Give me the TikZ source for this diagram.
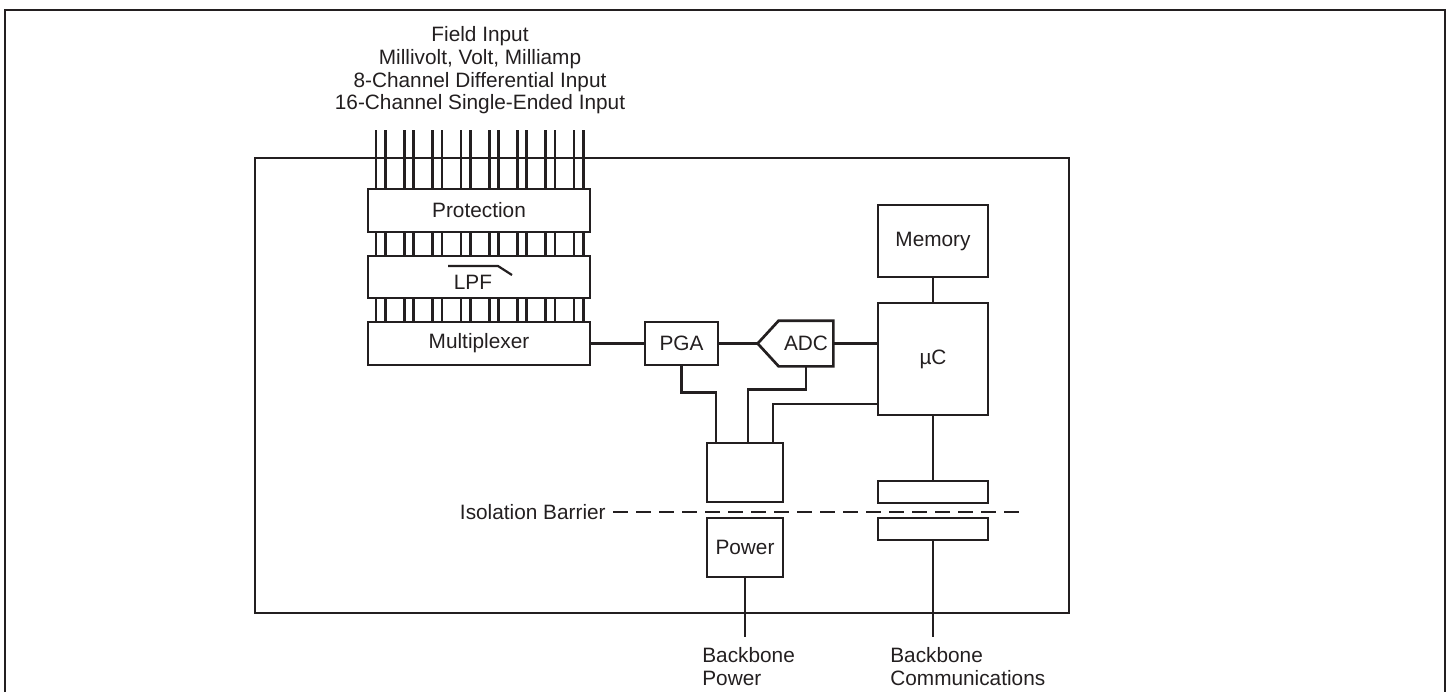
\documentclass[tikz,border=0pt]{standalone}
\usepackage{fontspec}
\setmainfont{Liberation Sans}
\usetikzlibrary{calc,positioning}
\definecolor{ink}{HTML}{231F20}
\begin{document}
\begin{tikzpicture}[x=0.5pt,y=-0.5pt,line width=1.35pt,draw=ink,text=ink,
  font=\fontsize{10.4}{11.4}\selectfont,
  blk/.style n args={2}{draw,inner sep=0pt,minimum width=#1,minimum height=#2},
  lbl/.style={inner sep=0pt,align=left,anchor=north west},
  barrier/.style={dash pattern=on 7.5pt off 4pt}]
\useasboundingbox (0,0) rectangle (1450,692);
\draw (5,692) |- (1445,10) -- (1445,692);
\draw (255,158) rectangle (1069,613);
\node[inner sep=0pt,align=center,anchor=north] (field) at (480,25)
  {Field Input\\Millivolt, Volt, Milliamp\\8-Channel Differential Input\\16-Channel Single-Ended Input};
\node[blk={111pt}{21.5pt}] (prot) at (479,210.5) {Protection};
\node[blk={111pt}{21pt}] (lpf) at (479,277) {};
\node (lpftxt) at ($(lpf.center)+(-6,5)$) {LPF};
\draw[line width=1.1pt] ($(lpf.center)+(-31,-11)$) -- ($(lpf.center)+(19,-11)$) -- ($(lpf.center)+(33,-2)$);
\node[blk={111pt}{21.5pt}] (mux) at (479,343.5) {Multiplexer};
\foreach \i in {0,...,7}
  \foreach \d in {0,9.3} {
    \coordinate (w) at ({376+28.3*\i+\d},130);
    \draw (w) -- (w |- prot.north);
    \draw (w |- prot.south) -- (w |- lpf.north);
    \draw (w |- lpf.south) -- (w |- mux.north);
  }
\node[blk={36.5pt}{21.5pt}] (pga) at (681.5,343.5) {PGA};
\node[blk={26pt}{21.5pt},draw=none] (adc) at (806,343.5) {ADC};
\coordinate (adctip) at ($(adc.west)+(-21,0)$);
\draw (adc.north east) -- (adc.north west) -- (adctip) -- (adc.south west) -- (adc.south east) -- cycle;
\node[blk={55pt}{36pt}] (mem) at (933,241) {Memory};
\node[blk={55pt}{56pt}] (uc) at (933,359) {µC};
\node[blk={38pt}{29.5pt}] (iso) at (745,472.5) {};
\node[blk={38pt}{29.5pt}] (pwr) at (745,547.5) {Power};
\node[blk={55pt}{11pt}] (tx) at (933,492) {};
\node[blk={55pt}{11pt}] (rx) at (933,529) {};
\draw (mux.east) -- (pga.west);
\draw (pga.east) -- (adctip);
\draw (adc.east) -- (adc.east -| uc.west);
\draw (mem.south) -- (uc.north);
\draw (pga.south) -- ++(0,26) -| ($(iso.north)+(-29,0)$);
\draw (adc.south) -- ++(0,23) -| ($(iso.north)+(3,0)$);
\draw ($(uc.west)+(0,45)$) -| ($(iso.north)+(28,0)$);
\draw (uc.south) -- (tx.north);
\coordinate (pwrend) at (745,637);
\coordinate (comend) at (933,637);
\draw (pwr.south) -- (pwrend);
\draw (rx.south) -- (comend);
\node[inner sep=3pt,anchor=east] (isolbl) at (613,512) {Isolation Barrier};
\coordinate (isoend) at (1025,512);
\draw[barrier] (isolbl.east) -- (isoend);
\node[lbl] (pwrlbl) at ($(pwrend)+(-44,9)$) {Backbone\\Power};
\node[lbl] (comlbl) at ($(comend)+(-44,9)$) {Backbone\\Communications};
\end{tikzpicture}
\end{document}
